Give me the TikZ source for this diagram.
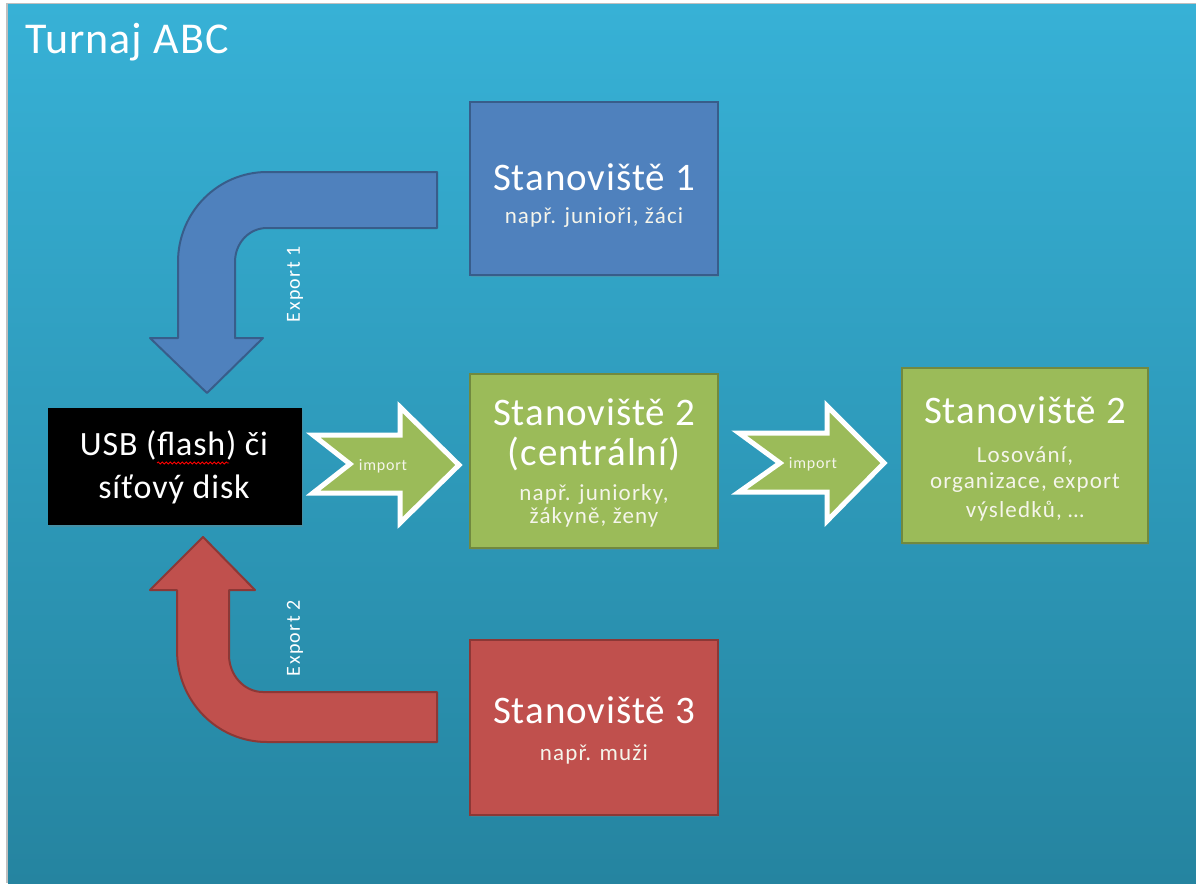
\documentclass[tikz,border=0pt]{standalone}
\usepackage{fontspec}
\setmainfont{Carlito}
\newfontfamily\fa[LetterSpace=2.5]{Carlito}
\newfontfamily\fb[LetterSpace=5]{Carlito}
\newfontfamily\fc[LetterSpace=7]{Carlito}
\usetikzlibrary{decorations.pathmorphing,shadows}
\definecolor{bgtop}{RGB}{55,177,214}
\definecolor{bgbot}{RGB}{37,132,160}
\definecolor{bfill}{RGB}{79,129,189}
\definecolor{bline}{RGB}{56,93,138}
\definecolor{gfill}{RGB}{155,187,89}
\definecolor{gline}{RGB}{113,137,63}
\definecolor{rfill}{RGB}{192,80,77}
\definecolor{rline}{RGB}{140,56,54}
\definecolor{subtxt}{RGB}{245,245,235}
\begin{document}
\begin{tikzpicture}[x=1pt,y=-1pt,
  stbox/.style={draw, line width=2.5pt, inner sep=0pt,
    drop shadow={shadow xshift=1pt, shadow yshift=-2pt, opacity=0.3}},
  bluebox/.style={stbox, fill=bfill, draw=bline},
  greenbox/.style={stbox, fill=gfill, draw=gline},
  redbox/.style={stbox, fill=rfill, draw=rline},
  ttl/.style={text=white, anchor=base, inner sep=0pt, font=\fa\fontsize{39}{44}\selectfont},
  sub/.style={text=subtxt, anchor=base, inner sep=0pt, font=\fb\fontsize{23}{27}\selectfont},
  usbt/.style={text=white, anchor=base, inner sep=0pt, font=\fa\fontsize{34}{38}\selectfont},
  small/.style={text=white, inner sep=0pt, font=\fc\fontsize{20}{22}\selectfont},
  imp/.style={text=subtxt, anchor=base, inner sep=0pt, font=\fb\fontsize{16}{18}\selectfont},
  bentblue/.style={fill=bfill, draw=bline, line width=2pt, line join=round},
  bentred/.style={fill=rfill, draw=rline, line width=2pt, line join=round},
  imparrow/.style={fill=gfill, draw=white, line width=5pt, line join=miter,
    drop shadow={shadow xshift=1pt, shadow yshift=-2pt, opacity=0.25}},
  squiggle/.style={red, line width=0.8pt, decorate,
    decoration={snake, amplitude=1pt, segment length=4pt}}
]
\useasboundingbox (0,0) rectangle (1196,883);
\fill[white] (0,0) rectangle (1196,883);
\fill[black!25] (6,3) rectangle (1196,883);
\shade[top color=bgtop, bottom color=bgbot] (8,5) rectangle (1196,883);

% title
\node[text=white, anchor=base west, inner sep=0pt, font=\fa\fontsize{44}{48}\selectfont] (title) at (25,53) {Turnaj ABC};

% boxes
\node[bluebox, minimum width=248pt, minimum height=173pt] (s1) at (594,188.5) {};
\node[greenbox, minimum width=248pt, minimum height=174pt] (s2) at (594,461) {};
\node[greenbox, minimum width=246pt, minimum height=175pt] (s4) at (1025,455.5) {};
\node[redbox, minimum width=248pt, minimum height=175pt] (s3) at (594,727.5) {};
\node[fill=black, minimum width=254pt, minimum height=117pt, inner sep=0pt,
  drop shadow={shadow xshift=1pt, shadow yshift=-2pt, opacity=0.3}] (usb) at (175,466.5) {};

% box texts
\node[ttl] (s1a) at (594,190) {Stanoviště 1};
\node[sub] (s1b) at (594,223) {např. junioři, žáci};

\node[ttl] (s2a) at (594,425) {Stanoviště 2};
\node[ttl] (s2b) at (594,465) {(centrální)};
\node[sub] (s2c) at (594,500) {např. juniorky,};
\node[sub] (s2d) at (594,523) {žákyně, ženy};

\node[ttl] (s4a) at (1025,423) {Stanoviště 2};
\node[sub] (s4b) at (1025,462) {Losování,};
\node[sub] (s4c) at (1025,488) {organizace, export};
\node[sub] (s4d) at (1025,517) {výsledků, …};

\node[ttl] (s3a) at (594,723) {Stanoviště 3};
\node[sub] (s3b) at (594,760) {např. muži};

\node[usbt] (u1) at (174,455) {USB (flash) či};
\node[usbt] (u2) at (174,498) {síťový disk};
\draw[squiggle] (157,463) -- (229,463);

% bent arrow (blue)
\draw[bentblue] (437,172) -- (267,172)
  .. controls (218,172) and (178,212) .. (178,262)
  -- (178,338) -- (150,338) -- (207,393) -- (263,338) -- (235,338) -- (235,262)
  .. controls (235,243) and (249,228) .. (267,228)
  -- (437,228) -- cycle;
\node[small, rotate=90] (e1) at (295,284) {Export 1};

% bent arrow (red)
\draw[bentred] (203,537) -- (255,590) -- (229,590) -- (229,655)
  .. controls (229,675) and (244,692) .. (263,692)
  -- (437,692) -- (437,742) -- (267,742)
  .. controls (217,742) and (177,701) .. (177,650)
  -- (177,590) -- (150,590) -- cycle;
\node[small, rotate=90] (e2) at (295,638) {Export 2};

% import arrows
\draw[imparrow] (313,435) -- (400,435) -- (400,407) -- (459,465) -- (400,523)
  -- (400,493) -- (313,493) -- (350,464) -- cycle;
\node[imp] (i1) at (383,470) {import};
\draw[imparrow] (739,433) -- (827,433) -- (827,406) -- (884,463) -- (827,521)
  -- (827,492) -- (739,492) -- (780,463) -- cycle;
\node[imp] (i2) at (813,468) {import};
\end{tikzpicture}
\end{document}
